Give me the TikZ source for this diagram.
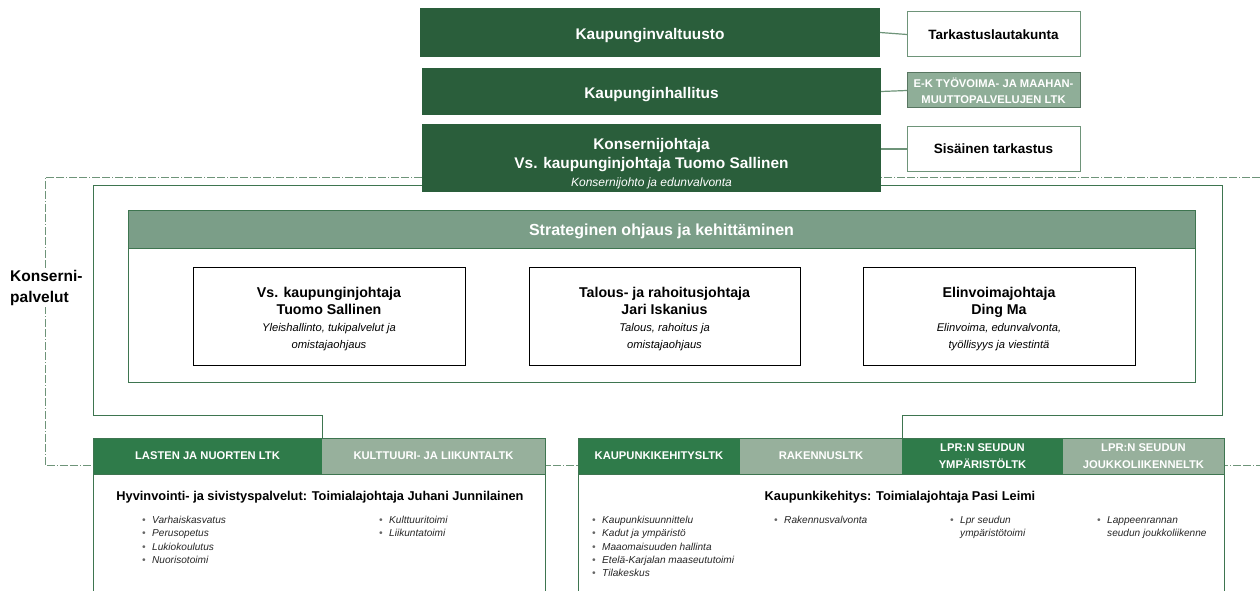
\documentclass[tikz,border=0pt]{standalone}
\usepackage{fontspec}
\setmainfont{Liberation Sans}
\newcommand{\fsz}[1]{\fontsize{#1}{\fpeval{#1*1.2}}\selectfont}
\newcommand{\fsb}[2]{\fontsize{#1}{\fpeval{#1*#2}}\selectfont}
\newcommand{\itm}{\makebox[10pt][l]{\color{black!60}\textbullet}}
\newcommand{\hng}{\hspace*{10pt}}
\definecolor{dkgreen}{HTML}{2A5E3B}
\definecolor{hdgreen}{HTML}{2F7B4A}
\definecolor{ltgreen}{HTML}{97B09C}
\definecolor{stgreen}{HTML}{7B9E88}
\definecolor{ekgreen}{HTML}{8FAE98}
\definecolor{lngreen}{HTML}{6E9479}
\definecolor{ingreen}{HTML}{3E7550}
\tikzset{
  base/.style={anchor=north west, inner sep=0pt, outer sep=0pt, align=center},
  topbox/.style={base, fill=dkgreen, text=white, font=\bfseries\fsb{15.4}{1.23}},
  sidebox/.style={base, draw=lngreen, line width=1pt, fill=white, font=\bfseries\fsz{13.5}},
  ekbox/.style={base, draw=lngreen!80!black, line width=1pt, fill=ekgreen, text=white, font=\bfseries\fsb{11.2}{1.45}},
  personbox/.style={base, draw=black, line width=0.9pt, fill=white, font=\bfseries\fsb{14.2}{1.2}},
  hdark/.style={base, fill=hdgreen, text=white, font=\bfseries\fsb{11.2}{1.48}},
  hlight/.style={base, fill=ltgreen, text=white, font=\bfseries\fsb{11.2}{1.48}},
  grpbox/.style={base, draw=ingreen, line width=1pt, fill=white},
  conn/.style={draw=lngreen, line width=1.2pt},
  dashline/.style={draw=lngreen, line width=1pt, dash pattern=on 8pt off 2pt on 8pt off 2pt on 1pt off 2pt},
  inline/.style={draw=ingreen, line width=1pt},
  bul/.style={anchor=north west, inner sep=0pt, align=left, font=\itshape\fsb{10.1}{1.32}, text=black!85},
  gtitle/.style={inner sep=0pt, font=\bfseries\fsz{12.8}}
}
\newcommand{\sub}{\mdseries\itshape\fsb{11.2}{1.45}}
\begin{document}
\begin{tikzpicture}[x=1pt,y=-1pt]
\useasboundingbox[fill=white] (0,0) rectangle (1260,591);

% dashed outer frame (partly hidden)
\coordinate (d1) at (1260,177);
\coordinate (d2) at (45,177);
\coordinate (d3) at (45,465);
\coordinate (d4) at (1260,465);
\draw[dashline] (d1) -- (d2) -- (d3) -- (d4);

% inner solid frame
\coordinate (s1) at (322,438);
\coordinate (s2) at (322,415);
\coordinate (s3) at (93,415);
\coordinate (s4) at (93,185);
\coordinate (s5) at (1222,185);
\coordinate (s6) at (1222,415);
\coordinate (s7) at (902,415);
\coordinate (s8) at (902,438);
\draw[inline] (s1) -- (s2) -- (s3) -- (s4) -- (s5) -- (s6) -- (s7) -- (s8);

% Konsernipalvelut label
\node[anchor=west, fill=white, inner sep=2pt, align=left, font=\bfseries\fsb{15.5}{1.3}] (kp) at (8,288) {Konserni-\\palvelut};

% top boxes
\node[topbox, minimum width=460pt, minimum height=49pt] (kv) at (420,8) {\rule{0pt}{17pt}Kaupunginvaltuusto};
\node[topbox, minimum width=459pt, minimum height=47pt] (kh) at (422,68) {\rule{0pt}{17pt}Kaupunginhallitus};
\node[topbox, minimum width=459pt, minimum height=68pt] (kj) at (422,124) {\rule{0pt}{23pt}Konsernijohtaja\\Vs. kaupunginjohtaja Tuomo Sallinen\\[-1pt]\mdseries\itshape\fsz{12}Konsernijohto ja edunvalvonta};

% side boxes
\node[sidebox, minimum width=173pt, minimum height=45pt] (tl) at (907,12) {Tarkastuslautakunta};
\node[ekbox, minimum width=173pt, minimum height=35pt] (ek) at (907,73) {E-K TYÖVOIMA- JA MAAHAN-\\MUUTTOPALVELUJEN LTK};
\node[sidebox, minimum width=173pt, minimum height=44pt] (st) at (907,127) {Sisäinen tarkastus};

\draw[conn] (kv.east) -- (tl.west);
\draw[conn] (kh.east) -- (ek.west);
\draw[conn] (kj.east |- st.west) -- (st.west);

% strategic box
\node[base, draw=ingreen, line width=1pt, fill=white, minimum width=1067pt, minimum height=172pt] (sb) at (128,210) {};
\node[base, draw=ingreen, line width=1pt, fill=stgreen, minimum width=1067pt, minimum height=38pt, text=white, font=\bfseries\fsz{16}] (sh) at (128,210) {\rule{0pt}{16pt}Strateginen ohjaus ja kehittäminen};

\node[personbox, minimum width=272pt, minimum height=98pt] (p1) at (193,267) {\rule{0pt}{17pt}Vs. kaupunginjohtaja\\Tuomo Sallinen\\\sub Yleishallinto, tukipalvelut ja\\\sub omistajaohjaus};
\node[personbox, minimum width=271pt, minimum height=98pt] (p2) at (529,267) {\rule{0pt}{17pt}Talous- ja rahoitusjohtaja\\Jari Iskanius\\\sub Talous, rahoitus ja\\\sub omistajaohjaus};
\node[personbox, minimum width=272pt, minimum height=98pt] (p3) at (863,267) {\rule{0pt}{17pt}Elinvoimajohtaja\\Ding Ma\\\sub Elinvoima, edunvalvonta,\\\sub työllisyys ja viestintä};

% bottom left group
\node[grpbox, minimum width=452pt, minimum height=170pt] (g1) at (93,438) {};
\node[hdark, minimum width=229pt, minimum height=36pt] (h1) at (93,438) {LASTEN JA NUORTEN LTK};
\node[hlight, minimum width=223pt, minimum height=36pt] (h2) at (322,438) {KULTTUURI- JA LIIKUNTALTK};
\draw[inline] (g1.north west) rectangle (g1.north east |- h1.south);
\node[gtitle] (t1) at (320,497) {Hyvinvointi- ja sivistyspalvelut: Toimialajohtaja Juhani Junnilainen};
\node[bul] (b1) at (142,516) {\itm Varhaiskasvatus\\\itm Perusopetus\\\itm Lukiokoulutus\\\itm Nuorisotoimi};
\node[bul] (b2) at (379,516) {\itm Kulttuuritoimi\\\itm Liikuntatoimi};

% bottom right group
\node[grpbox, minimum width=646pt, minimum height=170pt] (g2) at (578,438) {};
\node[hdark, minimum width=162pt, minimum height=36pt] (h3) at (578,438) {KAUPUNKIKEHITYSLTK};
\node[hlight, minimum width=162pt, minimum height=36pt] (h4) at (740,438) {RAKENNUSLTK};
\node[hdark, minimum width=161pt, minimum height=36pt] (h5) at (902,438) {LPR:N SEUDUN\\YMPÄRISTÖLTK};
\node[hlight, minimum width=161pt, minimum height=36pt] (h6) at (1063,438) {LPR:N SEUDUN\\JOUKKOLIIKENNELTK};
\draw[inline] (g2.north west) rectangle (g2.north east |- h3.south);
\node[gtitle] (t2) at (900,497) {Kaupunkikehitys: Toimialajohtaja Pasi Leimi};
\node[bul] (b3) at (592,516) {\itm Kaupunkisuunnittelu\\\itm Kadut ja ympäristö\\\itm Maaomaisuuden hallinta\\\itm Etelä-Karjalan maaseututoimi\\\itm Tilakeskus};
\node[bul] (b4) at (774,516) {\itm Rakennusvalvonta};
\node[bul] (b5) at (950,516) {\itm Lpr seudun\\\hng ympäristötoimi};
\node[bul] (b6) at (1097,516) {\itm Lappeenrannan\\\hng seudun joukkoliikenne};
\end{tikzpicture}
\end{document}
